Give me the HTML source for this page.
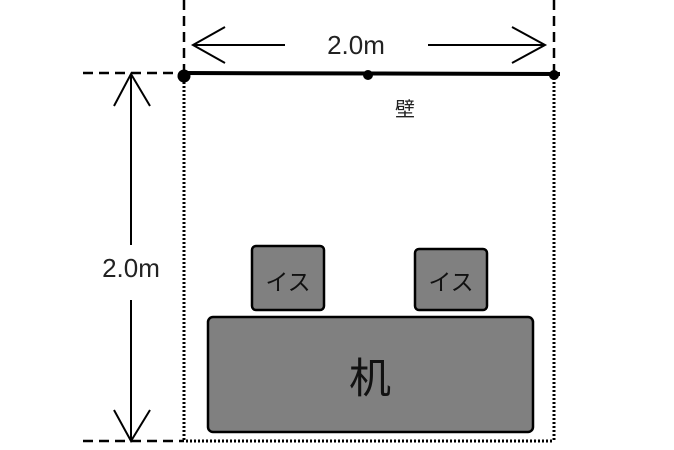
<!DOCTYPE html>
<html><head><meta charset="utf-8"><style>
html,body{margin:0;padding:0;background:#fff;}
svg{display:block;}
text{font-family:"Liberation Sans","Noto Sans CJK JP",sans-serif;}
</style></head><body>
<svg width="674" height="450" viewBox="0 0 674 450" xmlns="http://www.w3.org/2000/svg">
<g stroke="#000" stroke-width="2.5" fill="none" stroke-dasharray="10,6">
<line x1="184" y1="0" x2="184" y2="72"/>
<line x1="554" y1="0" x2="554" y2="72"/>
<line x1="83" y1="73" x2="183" y2="73"/>
<line x1="83" y1="441" x2="184" y2="441"/>
</g>
<g stroke="#000" stroke-width="3" fill="none" stroke-dasharray="2,2">
<line x1="184" y1="78" x2="184" y2="441"/>
<line x1="554" y1="78" x2="554" y2="441"/>
<line x1="186" y1="441" x2="554" y2="441"/>
</g>
<line x1="183" y1="73" x2="560" y2="74" stroke="#000" stroke-width="4"/>
<circle cx="184" cy="76" r="6.5" fill="#000"/>
<circle cx="368" cy="75" r="5" fill="#000"/>
<circle cx="554" cy="75" r="5" fill="#000"/>
<g stroke="#000" stroke-width="2" fill="none">
<line x1="193" y1="45" x2="285" y2="45"/>
<polyline points="225,27 193,45 225,63"/>
<line x1="428" y1="45" x2="545" y2="45"/>
<polyline points="512,27 545,45 512,63"/>
<line x1="131" y1="74" x2="131" y2="245"/>
<polyline points="114,106 131,74 150,106"/>
<line x1="131" y1="300" x2="131" y2="441"/>
<polyline points="114,410 131,441 150,410"/>
</g>
<text x="356" y="54" font-size="26" text-anchor="middle" fill="#222">2.0m</text>
<text x="131" y="277" font-size="26" text-anchor="middle" fill="#222">2.0m</text>
<text x="405" y="116" font-size="20" text-anchor="middle" fill="#222">壁</text>
<g fill="#808080" stroke="#000" stroke-width="2.5">
<rect x="252" y="246" width="72" height="64" rx="4"/>
<rect x="415" y="249" width="72" height="61" rx="4"/>
<rect x="208" y="317" width="325" height="115" rx="5"/>
</g>
<text x="288" y="290" font-size="23" text-anchor="middle" fill="#111">イス</text>
<text x="451" y="290" font-size="23" text-anchor="middle" fill="#111">イス</text>
<text x="370" y="393" font-size="42" text-anchor="middle" fill="#111">机</text>
</svg>
</body></html>
